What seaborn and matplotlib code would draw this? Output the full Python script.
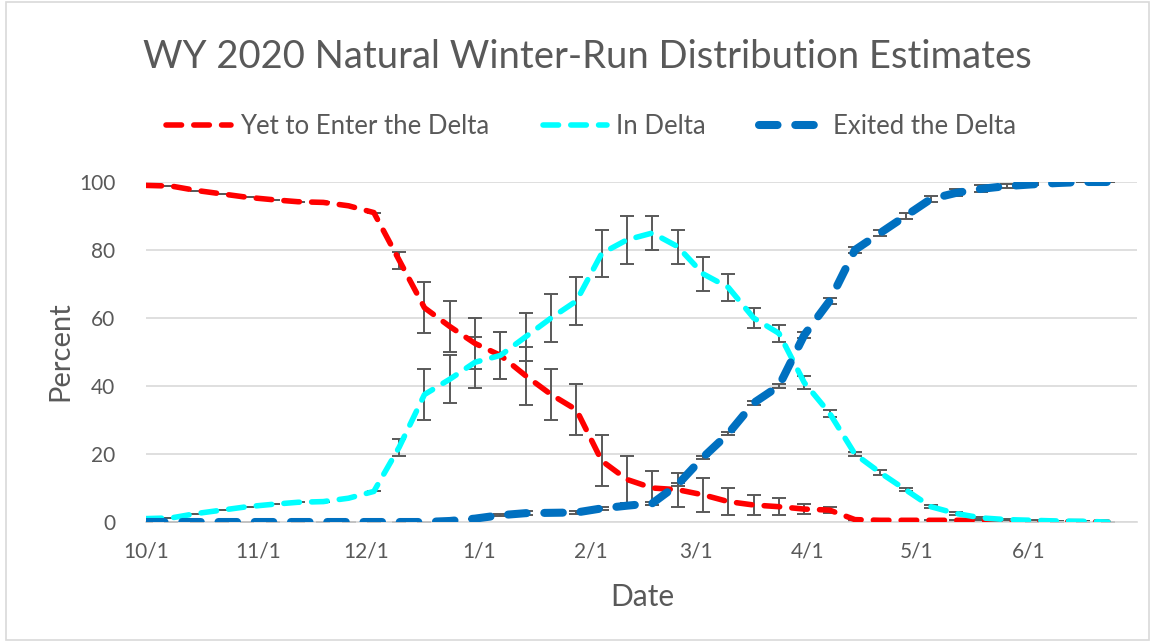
import numpy as np
import pandas as pd
import matplotlib
matplotlib.use("Agg")
import matplotlib.pyplot as plt
import matplotlib.dates as mdates
from matplotlib.lines import Line2D
from matplotlib.patches import Rectangle
import seaborn as sns

sns.set_style(style='white')
plt.rcParams['font.family'] = ['Lato', 'DejaVu Sans']

# weekly sample dates, WY 2020
dates = pd.date_range("2019-10-01", periods=39, freq="7D")

yet_to_enter = [99, 98.8, 97.5, 96.5, 95.5, 94.8, 94.2, 94, 93, 91,
                77, 63, 57.5, 52.5, 49, 43, 37.5, 33, 18, 12.5,
                10, 9.5, 8, 6, 5, 4.5, 3.8, 3.5, 0.7, 0.5,
                0.5, 0.5, 0.5, 0.5, 0.3, 0.2, 0.1, 0.1, 0]
yet_err = [0, 0, 0, 0, 0, 0, 0, 0, 0, 0,
           2.5, 7.5, 7.5, 7.5, 7, 8.5, 7.5, 7.5, 7.5, 7,
           5, 5, 5, 4, 3, 2.5, 1.5, 0.8, 0.3, 0.2,
           0.2, 0.2, 0.2, 0.2, 0.1, 0.1, 0, 0, 0]

in_delta = [1, 1.2, 2.5, 3.5, 4.5, 5.2, 5.8, 6, 7, 9,
            22, 37.5, 42, 47, 49, 54.5, 60, 65, 79, 83,
            85, 81, 73, 69, 60, 55.5, 41, 32, 20, 14.5,
            9.5, 4.5, 2.5, 1.2, 0.7, 0.5, 0.3, 0.2, 0]
in_err = [0, 0, 0, 0, 0, 0, 0, 0, 0, 0,
          2.5, 7.5, 7, 7.5, 7, 7, 7, 7, 7, 7,
          5, 5, 5, 4, 3, 2.5, 2, 1, 0.5, 0.7,
          0.5, 0.5, 0.5, 0.3, 0.2, 0.1, 0, 0, 0]

exited = [0, 0, 0, 0, 0, 0, 0, 0, 0, 0,
          0, 0, 0.3, 1, 2, 2.6, 2.7, 2.8, 4, 4.8,
          5.5, 11, 19, 26, 35, 40, 55, 65, 80, 85,
          90, 95, 96.8, 98, 98.8, 99.3, 99.7, 100, 100]
exit_err = [0, 0, 0, 0, 0, 0, 0, 0, 0, 0,
            0, 0, 0, 0, 0.3, 0.5, 0.5, 0.5, 0.5, 0.5,
            0.5, 0.5, 0.5, 0.5, 0.5, 0.5, 0.8, 0.8, 0.8, 0.8,
            0.8, 0.8, 1, 1, 0.5, 0.3, 0.2, 0, 0]

labels = ["Yet to Enter the Delta", "In Delta", "Exited the Delta"]
colors = ["#FF0000", "#00FFFF", "#0070C0"]
widths = [4.0, 4.0, 5.8]
dash_styles = [(2.8, 2.2), (2.8, 2.2), (2.3, 2.2)]
grey = "#595959"

df = pd.DataFrame({"Date": dates, labels[0]: yet_to_enter,
                   labels[1]: in_delta, labels[2]: exited})
errs = [yet_err, in_err, exit_err]

fig = plt.figure(figsize=(11.55, 6.42), dpi=100)
W, H = 1155, 642
ax = fig.add_axes([146 / W, 1 - 522 / H, (1137 - 146) / W, (522 - 182) / H])

# error bars under the lines
for lab, e in zip(labels, errs):
    ax.errorbar(df["Date"], df[lab], yerr=e, fmt='none', ecolor=grey,
                elinewidth=1.4, capsize=5, capthick=1.4, zorder=2)

handles = []
for lab, c, lw, ds in zip(labels, colors, widths, dash_styles):
    sns.lineplot(data=df, x="Date", y=lab, ax=ax, color=c, linewidth=lw,
                 estimator=None, zorder=3)
    ln = ax.lines[-1]
    ln.set_dashes(ds)
    ln.set_dash_capstyle('round')
    h = Line2D([], [], color=c, lw=lw, dashes=ds, dash_capstyle='round')
    handles.append(h)

ax.set_xlim(pd.Timestamp("2019-10-01"), pd.Timestamp("2020-07-01"))
ax.set_ylim(0, 100)
ax.set_yticks(range(0, 101, 20))
ax.xaxis.set_major_locator(mdates.MonthLocator())
ax.xaxis.set_major_formatter(
    plt.FuncFormatter(lambda v, p: "" if mdates.num2date(v).month == 7 else
                      f"{mdates.num2date(v).month}/{mdates.num2date(v).day}"))
ax.grid(axis='y', color="#D9D9D9", lw=1.2)
ax.set_axisbelow(True)
for s in ["left", "right", "top"]:
    ax.spines[s].set_visible(False)
ax.spines["bottom"].set_color("#D9D9D9")
ax.spines["bottom"].set_linewidth(1.2)
ax.tick_params(axis='x', colors="#D9D9D9", length=6, width=1.2, pad=8,
               labelcolor=grey, labelsize=15)
ax.tick_params(axis='y', length=0, pad=22, labelcolor=grey, labelsize=15)
ax.set_xlabel("")
ax.set_ylabel("")

fig.text(587 / W, 1 - 57 / H, "WY 2020 Natural Winter-Run Distribution Estimates",
         ha='center', va='center', fontsize=27.5, color=grey)
fig.text(60 / W, 1 - 351 / H, "Percent", rotation=90, ha='center', va='center',
         fontsize=21, color=grey)
fig.text(642 / W, 1 - 597 / H, "Date", ha='center', va='center',
         fontsize=21.5, color=grey)

fig.legend(handles, labels, loc='center', bbox_to_anchor=(591 / W, 1 - 126 / H),
           ncol=3, frameon=False, fontsize=18.5, labelcolor=grey,
           handlelength=2.5, handletextpad=0.35, columnspacing=2.1)

fig.patches.append(Rectangle((6 / W, 2 / H), 1143 / W, 638 / H,
                             transform=fig.transFigure, fill=False,
                             ec="#D9D9D9", lw=1.2))

fig.savefig("out.png", dpi=100)
